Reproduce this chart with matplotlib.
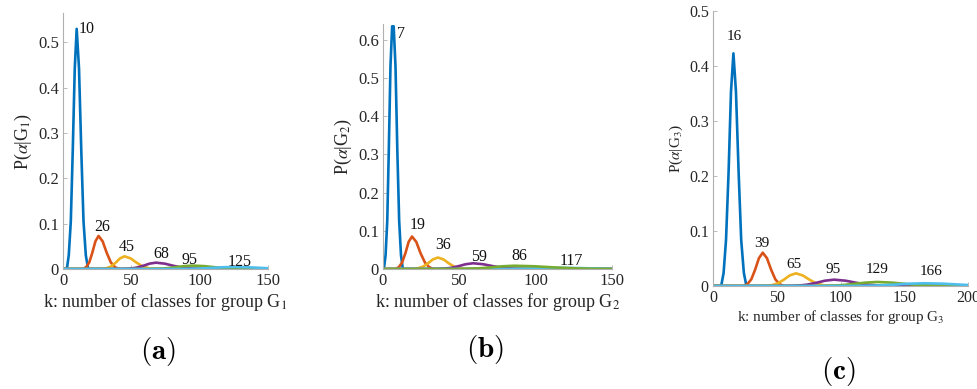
import matplotlib
matplotlib.use("Agg")
import matplotlib.pyplot as plt
from matplotlib.ticker import FuncFormatter

plt.rcParams.update({
    "font.family": ["Liberation Serif", "DejaVu Serif"],
    "mathtext.fontset": "stix",
    "axes.spines.top": False, "axes.spines.right": False,
})

MATLAB = ["#0072BD", "#D95319", "#EDB120", "#7E2F8E", "#77AC30", "#4DBEEE"]

# ---- panel (a): group G1 ----
K_A = [
    [0, 2.8, 4.2, 5.7, 7.1, 8.6, 10, 11.7, 13.4, 15.0, 16.7, 18.4, 150],
    [0, 14.6, 16.9, 19.2, 21.4, 23.7, 26, 29, 32, 35, 38, 41, 150],
    [0, 28.5, 31.8, 35.1, 38.4, 41.7, 45, 49.5, 54, 58.5, 63, 67.5, 150],
    [0, 44, 48.8, 53.6, 58.4, 63.2, 68, 74.6, 81.2, 87.8, 94.4, 101, 150],
    [0, 62, 68.6, 75.2, 81.8, 88.4, 95, 103.4, 111.8, 120.2, 128.6, 137, 150],
    [0, 83, 91.4, 99.8, 108.2, 116.6, 125, 135.8, 146.6, 150],
]
P_A = [
    [0, 0, 0.030, 0.105, 0.258, 0.443, 0.530, 0.443, 0.258, 0.105, 0.030, 0, 0],
    [0, 0, 0.0041, 0.0145, 0.0356, 0.0610, 0.073, 0.0610, 0.0356, 0.0145, 0.0041, 0, 0],
    [0, 0, 0.0016, 0.0055, 0.0136, 0.0234, 0.028, 0.0234, 0.0136, 0.0055, 0.0016, 0, 0],
    [0, 0, 0.0008, 0.0028, 0.0068, 0.0117, 0.014, 0.0117, 0.0068, 0.0028, 0.0008, 0, 0],
    [0, 0, 0.0004, 0.0015, 0.0037, 0.0063, 0.0075, 0.0063, 0.0037, 0.0015, 0.0004, 0, 0],
    [0, 0, 0.0003, 0.0009, 0.0022, 0.0038, 0.0045, 0.0038, 0.0022, 0.0017],
]
LABELS_A = ["10", "26", "45", "68", "95", "125"]

# ---- panel (b): group G2 ----
K_B = [
    [0, 0.6, 1.7, 2.8, 3.8, 4.9, 6.0, 7.0, 8.2, 9.4, 10.6, 11.8, 13.0, 150],
    [0, 8.2, 10.4, 12.5, 14.7, 16.8, 19, 21.8, 24.6, 27.5, 30.3, 33.1, 150],
    [0, 19.5, 22.8, 26.1, 29.4, 32.7, 36, 39.6, 43.2, 46.8, 50.4, 54, 150],
    [0, 35, 39.8, 44.6, 49.4, 54.2, 59, 65.6, 72.2, 78.8, 85.4, 92, 150],
    [0, 75, 83.4, 91.8, 100.2, 108.6, 117, 127.8, 138.6, 150],
    [0, 47, 54.8, 62.6, 70.4, 78.2, 86, 99.2, 112.4, 125.6, 138.8, 150],
]
P_B = [
    [0, 0, 0.036, 0.126, 0.309, 0.530, 0.635, 0.635, 0.530, 0.309, 0.126, 0.036, 0, 0],
    [0, 0, 0.0048, 0.0168, 0.0414, 0.0710, 0.085, 0.0710, 0.0414, 0.0168, 0.0048, 0, 0],
    [0, 0, 0.0017, 0.0059, 0.0146, 0.0251, 0.030, 0.0251, 0.0146, 0.0059, 0.0017, 0, 0],
    [0, 0, 0.0008, 0.0030, 0.0073, 0.0125, 0.015, 0.0125, 0.0073, 0.0030, 0.0008, 0, 0],
    [0, 0, 0.0002, 0.0006, 0.0015, 0.0025, 0.003, 0.0025, 0.0015, 0.0005],
    [0, 0, 0.0005, 0.0017, 0.0041, 0.0071, 0.0085, 0.0071, 0.0041, 0.0017, 0.0005, 0.0001],
]
LABELS_B = ["7", "19", "36", "59", "117", "86"]

# ---- panel (c): group G3 ----
K_C = [
    [0, 6.4, 8.3, 10.2, 12.2, 14.1, 16, 18.0, 20.1, 22.1, 24.2, 26.2, 200],
    [0, 24, 27, 30, 33, 36, 39, 42.3, 45.6, 48.9, 52.2, 55.5, 200],
    [0, 41, 45.8, 50.6, 55.4, 60.2, 65, 70.4, 75.8, 81.2, 86.6, 92, 200],
    [0, 59, 66.2, 73.4, 80.6, 87.8, 95, 104, 113, 122, 131, 140, 200],
    [0, 81, 90.6, 100.2, 109.8, 119.4, 129, 140.4, 151.8, 163.2, 174.6, 186, 200],
    [0, 106, 118, 130, 142, 154, 166, 180.4, 194.8, 200],
]
P_C = [
    [0, 0, 0.0237, 0.0837, 0.2058, 0.3528, 0.4225, 0.3528, 0.2058, 0.0837, 0.0237, 0, 0],
    [0, 0, 0.0034, 0.0120, 0.0295, 0.0505, 0.0605, 0.0505, 0.0295, 0.0120, 0.0034, 0, 0],
    [0, 0, 0.0013, 0.0046, 0.0112, 0.0192, 0.023, 0.0192, 0.0112, 0.0046, 0.0013, 0, 0],
    [0, 0, 0.0006, 0.0023, 0.0056, 0.0096, 0.0115, 0.0096, 0.0056, 0.0023, 0.0006, 0, 0],
    [0, 0, 0.0004, 0.0014, 0.0036, 0.0061, 0.0073, 0.0061, 0.0036, 0.0014, 0.0004, 0, 0],
    [0, 0, 0.0003, 0.0010, 0.0024, 0.0042, 0.005, 0.0042, 0.0024, 0.0018],
]
LABELS_C = ["16", "39", "65", "95", "129", "166"]

# label offsets in pixels from (peak, height): (dx, dy, ha)
OFF_A = [(2, 0, "left"), (4, 9, "center"), (2, 9, "center"), (5, 9, "center"),
         (-3, 6, "center"), (6, 5, "center")]
OFF_B = [(3, -8, "left"), (6, 12, "center"), (5, 13, "center"), (6, 6, "center"),
         (10, 7, "center"), (5, 10, "center")]
OFF_C = [(1, 17, "center"), (-1, 9, "center"), (-2, 9, "center"), (-1, 10, "center"),
         (0, 12, "center"), (6, 12, "center")]
COLORS_B = [MATLAB[0], MATLAB[1], MATLAB[2], MATLAB[3], MATLAB[5], MATLAB[4]]


def panel(ax, ks, ps, labels, offs, colors, xmax, ymax, gi, fs_tick, fs_num, fs_lab):
    for k, p, c in zip(ks, ps, colors):
        ax.plot(k, p, color=c, lw=1.9, solid_joinstyle="round")
    for k, p, lab, (dx, dy, ha) in zip(ks, ps, labels, offs):
        ax.annotate(lab, (float(lab), max(p)), xytext=(dx, dy),
                    textcoords="offset pixels", ha=ha, va="center",
                    fontsize=fs_num, color="#111111")
    ax.set_xlim(0, xmax)
    ax.set_ylim(0, ymax)
    ax.set_xticks(range(0, xmax + 1, 50))
    nt = int(ymax * 10 + 1e-9) + 1
    ax.set_yticks([i / 10 for i in range(nt)])
    ax.yaxis.set_major_formatter(FuncFormatter(lambda v, _: f"{v:g}"))
    for s in ("left", "bottom"):
        ax.spines[s].set_color("#b0b0b0")
        ax.spines[s].set_linewidth(0.8)
    ax.tick_params(direction="in", length=3, width=0.6, color="#b0b0b0",
                   labelsize=fs_tick, labelcolor="#262626", pad=3)
    ax.set_xlabel(f"k: number of classes for group G$_{gi}$", fontsize=fs_lab,
                  color="#262626", labelpad=1)
    ax.set_ylabel(rf"P($\alpha$|G$_{gi}$)", fontsize=fs_lab, color="#262626",
                  labelpad=3)


fig = plt.figure(figsize=(9.77, 3.89), dpi=100)
ax_a = fig.add_axes([0.0645, 0.3085, 0.2098, 0.6581])
ax_b = fig.add_axes([0.392, 0.3085, 0.2344, 0.6298])
ax_c = fig.add_axes([0.7298, 0.2648, 0.261, 0.7077])

panel(ax_a, K_A, P_A, LABELS_A, OFF_A, MATLAB, 150, 0.565, 1, 12, 11.5, 13)
panel(ax_b, K_B, P_B, LABELS_B, OFF_B, COLORS_B, 150, 0.641, 2, 12, 11.5, 13)
panel(ax_c, K_C, P_C, LABELS_C, OFF_C, MATLAB, 200, 0.5, 3, 11.5, 11, 11)

for x, y, t in [(158, 352, "a"), (485, 349, "b"), (838, 371, "c")]:
    fig.text(x / 977, 1 - y / 389, rf"$\mathbf{{({t})}}$", ha="center",
             va="center", fontsize=21, math_fontfamily="cm")

fig.savefig("out.png", dpi=100)
